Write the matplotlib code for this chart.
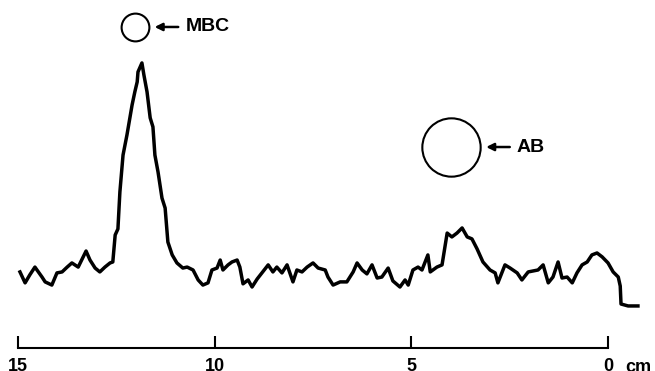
import matplotlib.pyplot as plt

# distance along the gel (cm) and relative absorbance (% of MBC peak)
distance = [14.95, 14.82, 14.70, 14.57, 14.39, 14.31, 14.14, 14.01, 13.88, 13.75,
            13.63, 13.47, 13.27, 13.17, 13.04, 12.92, 12.79, 12.66, 12.59, 12.53,
            12.46, 12.41, 12.33, 12.23, 12.10, 12.03, 11.97, 11.95, 11.85, 11.80,
            11.72, 11.64, 11.57, 11.52, 11.44, 11.34, 11.26, 11.19, 11.08, 10.96,
            10.81, 10.70, 10.55, 10.42, 10.30, 10.17, 10.07, 9.94, 9.86, 9.79,
            9.66, 9.56, 9.43, 9.36, 9.28, 9.15, 9.05, 8.92, 8.80, 8.64,
            8.52, 8.42, 8.29, 8.16, 8.01, 7.91, 7.78, 7.65, 7.50, 7.37,
            7.19, 7.12, 6.99, 6.81, 6.64, 6.48, 6.38, 6.25, 6.13, 6.00,
            5.87, 5.75, 5.59, 5.47, 5.29, 5.16, 5.08, 4.96, 4.83, 4.73,
            4.58, 4.52, 4.35, 4.22, 4.09, 3.97, 3.84, 3.71, 3.58, 3.46,
            3.33, 3.18, 3.00, 2.87, 2.80, 2.62, 2.49, 2.31, 2.19, 2.03,
            1.78, 1.65, 1.52, 1.40, 1.27, 1.17, 1.04, 0.91, 0.79, 0.66,
            0.53, 0.41, 0.28, 0.15, 0.00, -0.13, -0.26, -0.31, -0.33, -0.51,
            -0.76]
absorbance = [14.0, 9.5, 12.8, 16.0, 11.9, 9.9, 8.6, 13.6, 14.0, 16.0,
              17.7, 16.0, 22.6, 18.9, 15.6, 14.0, 16.0, 17.7, 18.1, 29.2,
              31.7, 46.9, 62.1, 70.4, 82.7, 88.1, 92.2, 96.3, 100.0, 95.1,
              88.1, 77.4, 73.7, 62.1, 55.1, 44.4, 40.3, 26.3, 21.0, 17.7,
              15.6, 16.0, 14.8, 10.7, 8.6, 9.5, 14.8, 15.6, 18.9, 14.8,
              16.9, 18.1, 18.9, 16.0, 9.1, 10.7, 7.8, 11.1, 13.6, 16.9,
              14.0, 16.0, 13.6, 16.9, 9.9, 14.8, 14.0, 16.0, 17.7, 15.6,
              14.8, 11.9, 8.6, 9.9, 9.9, 14.0, 17.7, 14.8, 13.2, 16.9,
              11.5, 11.9, 15.6, 10.3, 7.8, 10.7, 8.6, 14.8, 16.0, 14.8,
              21.0, 14.0, 16.0, 16.9, 30.0, 28.4, 30.0, 32.1, 28.4, 27.6,
              23.5, 18.1, 14.8, 13.6, 9.5, 16.9, 15.6, 13.6, 10.7, 14.0,
              14.8, 16.9, 9.5, 11.9, 18.1, 11.5, 11.9, 9.5, 13.6, 16.9,
              18.1, 21.0, 21.8, 20.2, 17.7, 14.0, 11.9, 8.2, 0.8, 0.0,
              0.0]

ticks = [15, 10, 5, 0]
tick_labels = ["15", "10", "5", "0"]

# band labels: name, circle position, marker size
bands = ["MBC", "AB"]
band_pos = [(12.03, 114.8), (3.99, 65.4)]
band_size = [20, 42]

plt.rcParams["font.family"] = ["Liberation Sans", "DejaVu Sans"]

fig = plt.figure(figsize=(6.55, 3.71), dpi=100)
ax = fig.add_axes([0.0275, 0.062, 0.9008, 0.938])

ax.plot(distance, absorbance, color="black", lw=2.5, clip_on=False,
        solid_joinstyle="round")

ax.set_xlim(15, 0)
ax.set_ylim(-17.3, 125.9)

for sp in ["top", "left", "right"]:
    ax.spines[sp].set_visible(False)
ax.spines["bottom"].set_linewidth(1.5)
ax.set_yticks([])
ax.set_xticks(ticks)
ax.set_xticklabels(tick_labels, fontsize=13, fontweight="bold")
ax.tick_params(axis="x", direction="in", length=9, width=1.5, pad=7)
ax.text(-0.45, -0.033, "cm", transform=ax.get_xaxis_transform(),
        ha="left", va="top", fontsize=13, fontweight="bold")

for name, (bx, by), size in zip(bands, band_pos, band_size):
    ax.plot(bx, by, marker="o", ms=size, mfc="none", mec="black", mew=1.5,
            clip_on=False)
    r = size / 2 / 72 * 100 / 39.33  # radius in cm
    head = bx - r - 0.15
    tail = head - 0.6
    ax.annotate("", xy=(head, by), xytext=(tail, by),
                arrowprops=dict(arrowstyle="-|>", color="black", lw=1.8,
                                mutation_scale=11, shrinkA=0, shrinkB=0))
    ax.text(tail - 0.18, by, name, ha="left", va="center",
            fontsize=14, fontweight="bold")

plt.savefig("out.png", dpi=100)
